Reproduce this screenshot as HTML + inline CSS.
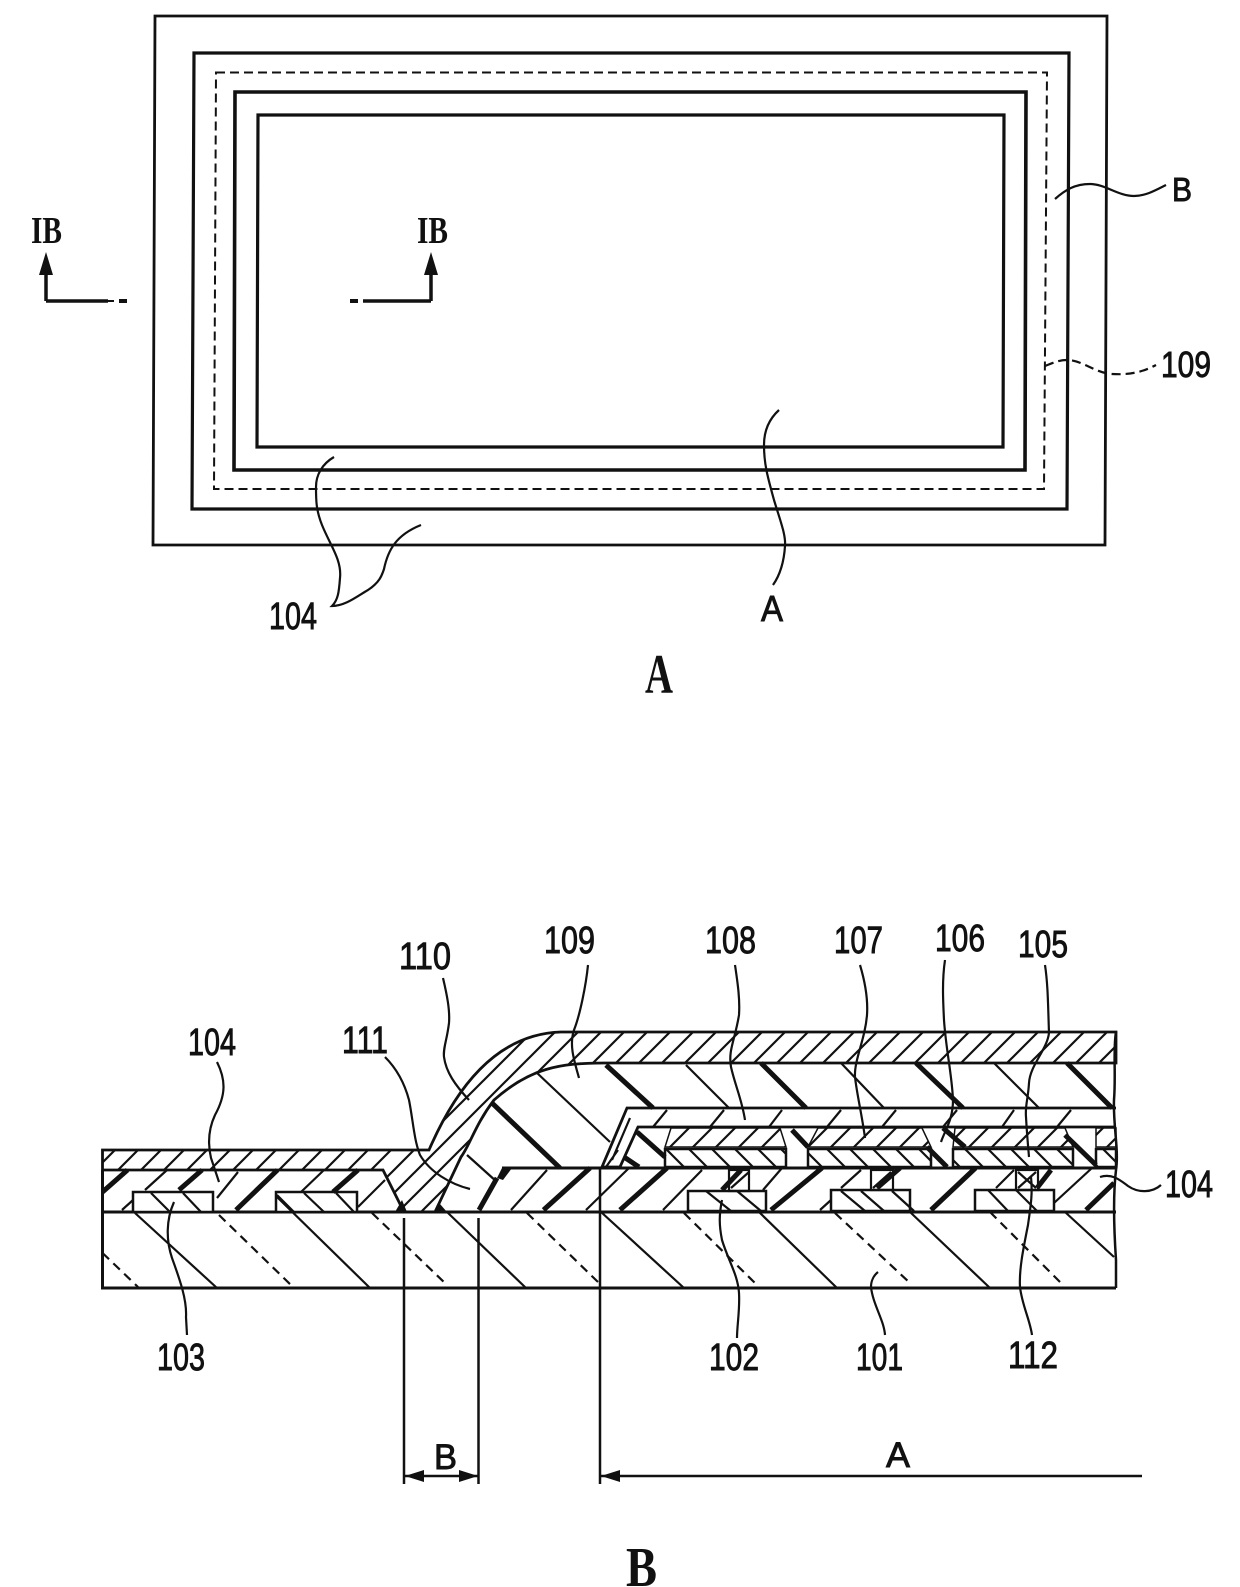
<!DOCTYPE html>
<html><head><meta charset="utf-8"><style>html,body{margin:0;padding:0;background:#fff}svg{display:block}
text{font-family:"Liberation Sans",sans-serif;fill:#111;stroke:#111;stroke-width:.9}
.s{font-family:"Liberation Serif",serif}
.l{fill:none;stroke:#111;stroke-width:2.2}
.t{stroke:#111;stroke-width:2.2;fill:none}
.k{stroke:#111;stroke-width:5;fill:none}
.d{stroke:#111;stroke-width:2.2;fill:none;stroke-dasharray:9 6}
</style></head><body>
<svg width="1240" height="1587" viewBox="0 0 1240 1587" xmlns="http://www.w3.org/2000/svg">
<defs>
<pattern id="f" patternUnits="userSpaceOnUse" width="23" height="23"><path d="M-2 2L2 -2M0 23L23 0M21 25L25 21" stroke="#111" stroke-width="2.2"/></pattern>
<pattern id="b" patternUnits="userSpaceOnUse" width="23" height="23"><path d="M-2 21L2 25M0 0L23 23M21 -2L25 2" stroke="#111" stroke-width="2.2"/></pattern>
</defs>

<!-- Figure A -->
<g fill="none" stroke="#111">
<path d="M155 16H1107L1105 545H153Z" stroke-width="2.8"/>
<path d="M194 53H1069L1067 509H192Z" stroke-width="3.2"/>
<path d="M216 72.500H1047L1044 489H214Z" stroke-width="2" stroke-dasharray="9 5"/>
<path d="M235 92H1026L1025 470H234Z" stroke-width="3.6"/>
<path d="M258 115H1004L1003 447H257Z" stroke-width="3.2"/>
</g>
<path class="l" d="M334 457C322 464 316 475 316 487C316 500 316 510 322 525C330 545 342 560 340 578C339 592 338 600 332 606C345 606 356 597 368 590C380 582 382 575 384 569C388 550 396 535 421 525"/>
<path class="l" d="M779 410C768 420 764 432 764 445C764 465 768 478 774 500C780 520 786 535 785 546C784 562 780 575 773 585"/>
<path class="l" d="M1055 199C1065 190 1075 184 1090 184C1105 184 1118 196 1134 196C1146 196 1156 190 1166 185"/>
<path class="l" d="M1045 366C1055 362 1060 360 1067 360C1082 360 1095 373 1112 374C1130 375 1143 372 1156 365" stroke-dasharray="9 5"/>
<g class="l"><path d="M46 301V272M46 301H108" stroke-width="3.500" fill="none"/><path d="M108 301H114" stroke-width="2"/><path d="M119 301H127" stroke-width="4"/>
<path d="M431 301V272M431 301H363" stroke-width="3.500" fill="none"/><path d="M350 301H358" stroke-width="4"/></g>
<path d="M46 252L39 275H53Z M431 252L424 275H438Z" fill="#111"/>
<text class="s" x="31" y="243" font-size="38" font-weight="bold" textLength="31" lengthAdjust="spacingAndGlyphs" style="stroke-width:0">IB</text>
<text class="s" x="417" y="243" font-size="38" font-weight="bold" textLength="31" lengthAdjust="spacingAndGlyphs" style="stroke-width:0">IB</text>
<text x="269" y="629" font-size="38" textLength="48" lengthAdjust="spacingAndGlyphs">104</text>
<text x="761" y="621" font-size="36" textLength="22" lengthAdjust="spacingAndGlyphs">A</text>
<text x="1172" y="201" font-size="33" textLength="20" lengthAdjust="spacingAndGlyphs">B</text>
<text x="1161" y="377" font-size="36" textLength="50" lengthAdjust="spacingAndGlyphs">109</text>
<text class="s" x="645" y="693" font-size="56" font-weight="bold" textLength="28" lengthAdjust="spacingAndGlyphs" style="stroke-width:0">A</text>

<!-- Figure B fills -->
<path d="M102.500 1150L429 1150C455 1090 495 1034 561 1032L1116 1032L1116 1063L604 1063C560 1063 530 1068 494 1100C475 1125 470 1145 461 1157L435 1212L404 1212L383 1170L102.500 1170Z" fill="url(#f)" stroke="#111" stroke-width="2.8"/>
<!-- layer outlines -->
<path d="M102.500 1170V1288H1116" class="l" style="stroke-width:3"/>
<path d="M102.500 1212H1116" class="l" style="stroke-width:3"/>
<path d="M502 1168H1116" class="l" style="stroke-width:3"/>
<path d="M358 1207L385 1180" class="t"/>
<!-- 109 / 108 -->
<path d="M1116 1108H627L602 1167H620L638 1127H1116" fill="#fff" stroke="#111" stroke-width="2.800"/>
<g class="t"><path d="M653 1127L667 1110M710 1127L724 1110M769 1127L782 1110M827 1127L841 1110M882 1127L896 1110M943 1127L957 1110M1002 1127L1014 1110M1057 1127L1071 1110M612 1160L630 1118M606 1167L618 1150"/></g>
<!-- 107 strips -->
<path d="M671 1128H780L786 1147H665Z" fill="url(#f)" stroke="#111" stroke-width="1.500"/>
<path d="M818 1128H922L931 1147H808Z" fill="url(#f)" stroke="#111" stroke-width="1.500"/>
<path d="M955 1128H1065L1073 1147H953Z" fill="url(#f)" stroke="#111" stroke-width="1.500"/>
<path d="M1096 1128H1116V1147H1096Z" fill="url(#f)" stroke="#111" stroke-width="1.500"/>
<!-- 105 electrodes -->
<rect x="665" y="1149" width="121" height="18" fill="url(#b)" stroke="#111" stroke-width="2.500"/>
<rect x="808" y="1149" width="123" height="18" fill="url(#b)" stroke="#111" stroke-width="2.500"/>
<rect x="953" y="1149" width="120" height="18" fill="url(#b)" stroke="#111" stroke-width="2.500"/>
<rect x="1096" y="1149" width="20" height="18" fill="url(#b)" stroke="#111" stroke-width="2.500"/>
<!-- TFT blocks -->
<g fill="#fff" stroke="#111" stroke-width="2.500">
<rect x="133" y="1192" width="80" height="20"/><rect x="276" y="1192" width="81" height="20"/>
<rect x="688" y="1191" width="78" height="20"/><rect x="831" y="1190" width="79" height="21"/><rect x="975" y="1190" width="79" height="21"/>
</g>
<g class="t">
<path d="M151 1193L170 1212M183 1193L201 1212M277 1195L294 1212M304 1193L324 1212M336 1193L354 1212"/>
<path d="M706 1191L731 1211M737 1191L761 1211M841 1191L865 1211M861 1191L884 1211M892 1191L914 1211M988 1190L1008 1211M1016 1190L1037 1211"/>
<!-- contacts -->
<rect x="729" y="1170" width="20" height="21"/><rect x="871" y="1170" width="22" height="20"/><rect x="1016" y="1170" width="22" height="20"/>
<path d="M731 1188L749 1172M873 1188L891 1172M1018 1188L1036 1172M1018 1172L1036 1188"/>
<!-- 104 thin -->
<path d="M122 1210L133 1200M145 1190L167 1170M217 1198L238 1172M301 1192L324 1170M511 1210L547 1170M586 1210L629 1168M663 1210L702 1170M763 1190L782 1168M820 1210L831 1200M841 1188L861 1170M996 1188L1014 1170M1054 1203L1092 1168"/>
<!-- substrate solid -->
<path d="M135 1213L217 1288M277 1197L370 1288M447 1212L526 1288M601 1212L684 1288M759 1212L837 1288M910 1212L990 1288M1065 1212L1114 1257"/>
<!-- 109 thin -->
<path d="M686 1065L729 1108M841 1063L884 1108M994 1063L1039 1108M536 1072L610 1142M467 1155L497 1182"/>
<!-- left slant in 111 area -->
<path d="M383 1170L404 1212"/>
</g>
<g class="k">
<path d="M102.500 1192L127.500 1170M179 1190L202 1170M236 1210L277.500 1170M333 1192L358 1170M722 1190L741 1170M771 1210L822 1168M877 1188L900 1168M931 1210L975.500 1168M1037 1188L1051 1170M1086 1210L1114 1183M543.500 1210L590 1168M620 1210L667 1168M479 1210L497 1178"/>
<path d="M606 1065L653 1108M761 1063L806 1108M916 1063L963 1108M1067 1063L1112 1108M492 1103L560 1168"/>
<path d="M637 1132L665 1157M624 1157L639 1167M792 1130L808 1147M927 1147L947 1167M943 1128L965 1147M1065 1135L1096 1165"/>
</g>
<path d="M497 1178L502 1168H512L503 1180Z M395 1212L402 1200L407 1212Z M434 1212L440 1204L447 1212Z" fill="#111"/>
<g class="d">
<path d="M102.500 1253L138 1287M219 1215L292 1286M372 1213L447 1285M527 1213L599 1283M684 1213L757 1285M835 1213L910 1283M990 1212L1063 1285"/>
</g>
<!-- right break edge -->
<path class="l" style="stroke-width:2.500" d="M1116 1032C1113 1050 1116 1075 1114 1100C1113 1125 1119 1150 1116 1170C1113 1195 1114 1230 1116 1260L1116 1288"/>
<!-- Leaders -->
<g class="l">
<path d="M174 1202C166 1220 166 1240 172 1258C180 1280 187 1300 186 1317L187 1335"/>
<path d="M217 1062C226 1080 226 1095 215 1115C208 1130 208 1145 211 1158L219 1182"/>
<path d="M385 1057C398 1070 405 1085 409 1100C413 1120 414 1140 420 1155C430 1172 450 1184 470 1189"/>
<path d="M443 978C447 995 450 1010 449 1023C447 1040 443 1048 444 1057C446 1072 455 1085 469 1100"/>
<path d="M588 965C586 985 580 1015 574 1030C569 1045 574 1060 579 1078"/>
<path d="M735 965C738 985 740 1000 739 1015C735 1040 728 1050 731 1067C735 1085 742 1100 745 1120"/>
<path d="M860 965C866 985 868 1000 867 1015C865 1040 854 1060 855 1077C857 1095 862 1115 865 1138"/>
<path d="M945 960C942 980 943 1000 944 1020C946 1050 952 1075 953 1100C953 1120 945 1130 941 1142"/>
<path d="M1045 965C1048 985 1048 1005 1049 1033C1047 1050 1030 1065 1029 1083C1028 1100 1025 1105 1026 1117C1027 1135 1028 1145 1029 1157"/>
<path d="M722 1200C719 1215 719 1225 722 1240C728 1260 738 1275 739 1293C740 1310 737 1325 737 1338"/>
<path d="M878 1272C873 1276 871 1282 871 1287C873 1305 884 1320 885 1335"/>
<path d="M1031 1177C1033 1195 1030 1210 1028 1225C1023 1250 1019 1270 1020 1287C1022 1305 1030 1320 1032 1335"/>
<path d="M1100 1177C1112 1173 1120 1180 1128 1186C1138 1193 1152 1193 1161 1185"/>
</g>
<!-- Dimensions -->
<g class="l" style="stroke-width:2.500">
<path d="M404 1218V1484M478.500 1218V1484M600 1167V1484M404 1476H478M600 1476H1142"/>
</g>
<path d="M405 1476L424 1470V1482Z M478 1476L459 1470V1482Z M601 1476L620 1470V1482Z" fill="#111"/>
<!-- Labels -->
<g font-size="38">
<text x="157" y="1370" font-size="38" textLength="48" lengthAdjust="spacingAndGlyphs">103</text>
<text x="188" y="1055" font-size="38" textLength="48" lengthAdjust="spacingAndGlyphs">104</text>
<text x="342" y="1053" font-size="38" textLength="46" lengthAdjust="spacingAndGlyphs">111</text>
<text x="399" y="969" font-size="38" textLength="52" lengthAdjust="spacingAndGlyphs">110</text>
<text x="544" y="953" font-size="38" textLength="51" lengthAdjust="spacingAndGlyphs">109</text>
<text x="705" y="953" font-size="38" textLength="51" lengthAdjust="spacingAndGlyphs">108</text>
<text x="834" y="953" font-size="38" textLength="49" lengthAdjust="spacingAndGlyphs">107</text>
<text x="935" y="951" font-size="38" textLength="50" lengthAdjust="spacingAndGlyphs">106</text>
<text x="1018" y="957" font-size="38" textLength="50" lengthAdjust="spacingAndGlyphs">105</text>
<text x="1165" y="1197" font-size="38" textLength="48" lengthAdjust="spacingAndGlyphs">104</text>
<text x="709" y="1370" font-size="38" textLength="50" lengthAdjust="spacingAndGlyphs">102</text>
<text x="856" y="1370" font-size="38" textLength="47" lengthAdjust="spacingAndGlyphs">101</text>
<text x="1008" y="1368" font-size="38" textLength="50" lengthAdjust="spacingAndGlyphs">112</text>
<text x="434" y="1469" font-size="35" textLength="23" lengthAdjust="spacingAndGlyphs">B</text>
<text x="886" y="1467" font-size="35" textLength="24" lengthAdjust="spacingAndGlyphs">A</text>
</g>
<text class="s" x="626" y="1586" font-size="56" font-weight="bold" textLength="31" lengthAdjust="spacingAndGlyphs" style="stroke-width:0">B</text>
</svg>
</body></html>
